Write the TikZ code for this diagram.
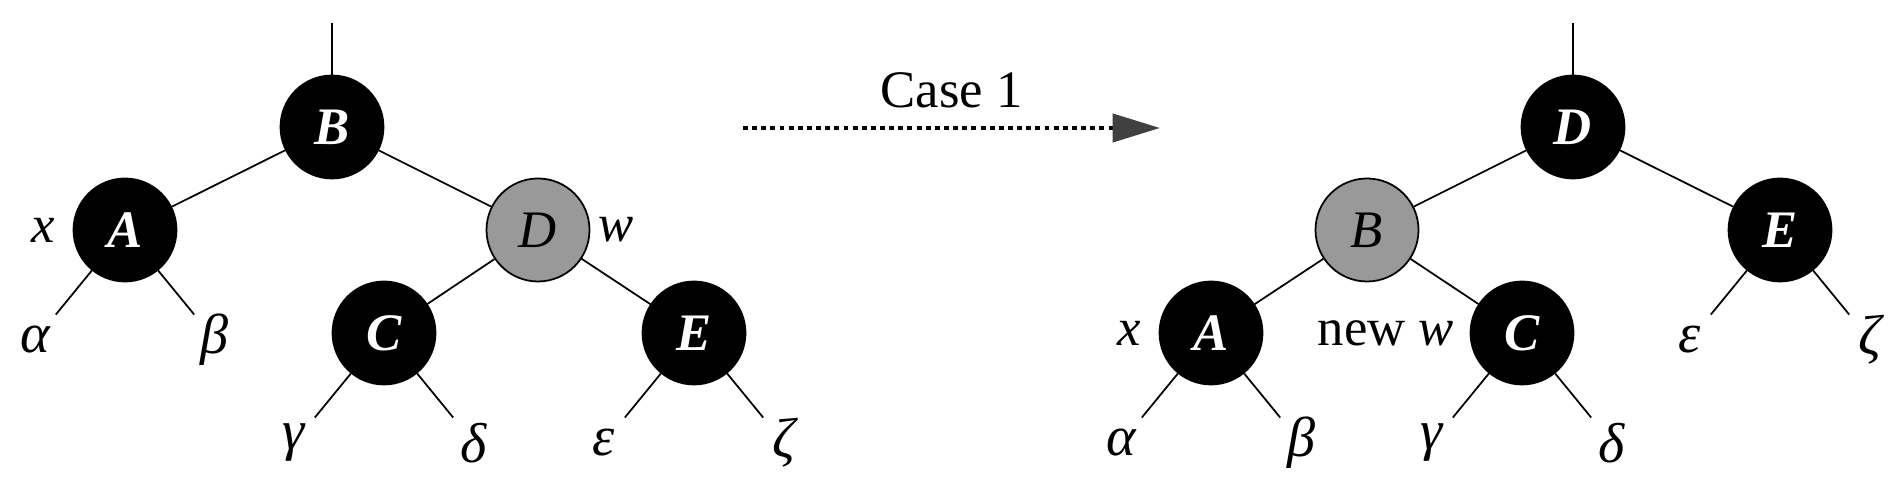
\documentclass[tikz,border=0pt]{standalone}
\usepackage{fontspec}
\setmainfont{Liberation Serif}
\usetikzlibrary{positioning,arrows.meta}

\tikzset{
  rbnode/.style={circle,draw,minimum size=1.03cm,inner sep=0pt,line width=0.5pt},
  blacknode/.style={rbnode,fill=black,text=white,font=\fontsize{15}{17}\selectfont\bfseries\itshape},
  rednode/.style={rbnode,fill=black!40,font=\fontsize{15}{17}\selectfont\itshape},
  leaf/.style={circle,minimum size=0.64cm,inner sep=0pt,font=\fontsize{16}{18}\selectfont\itshape},
  tag/.style={inner sep=0pt,font=\fontsize{15}{17}\selectfont},
  casearrow/.style={line width=1.1pt,dash pattern=on 1.4pt off 1.2pt,
    -{Triangle[length=13.5pt,width=8pt,color=black!75,fill=black!75]}}
}

\begin{document}
\begin{tikzpicture}[node distance=3cm,on grid,line width=0.5pt]
	   \useasboundingbox (0,0) rectangle (19,5);
	   % before
	   \node[blacknode] (l_B) at (3.32,3.73) {B};
	   \node[blacknode] (l_A) [below left=1.03cm and 2.07cm of l_B] {A};
	   \node[rednode]   (l_D) [below right=1.03cm and 2.06cm of l_B] {D};
	   \node[blacknode] (l_C) [below left=1.03cm and 1.54cm of l_D] {C};
	   \node[blacknode] (l_E) [below right=1.03cm and 1.56cm of l_D] {E};
	   \coordinate[above=1.04cm of l_B] (l_top);
	   \node[leaf] (l_alpha) [below left=1.1cm and 0.9cm of l_A] {α};
	   \node[leaf] (l_beta)  [below right=1.1cm and 0.9cm of l_A] {β};
	   \node[leaf] (l_gamma) [below left=1.1cm and 0.9cm of l_C] {γ};
	   \node[leaf] (l_delta) [below right=1.1cm and 0.9cm of l_C] {δ};
	   \node[leaf] (l_eps)   [below left=1.1cm and 0.9cm of l_E] {ε};
	   \node[leaf] (l_zeta)  [below right=1.1cm and 0.9cm of l_E] {ζ};
	   \node[tag] (l_x) [left=0.82cm of l_A] {\itshape x};
	   \node[tag] (l_w) [right=0.78cm of l_D] {\itshape w};
	    \path
	    (l_B) edge (l_top)
	          edge (l_A)
	          edge (l_D)
	    (l_A) edge (l_alpha)
	          edge (l_beta)
	    (l_D) edge (l_C)
	          edge (l_E)
	    (l_C) edge (l_gamma)
	          edge (l_delta)
	    (l_E) edge (l_eps)
	          edge (l_zeta);
	   % arrow
	   \coordinate (c_from) at (7.43,3.72);
	   \coordinate (c_to) at (11.60,3.72);
	   \draw[casearrow] (c_from) -- node[tag,above=5pt] (c_label) {Case 1} (c_to);
	   % after
	   \node[blacknode] (r_D) at (15.73,3.73) {D};
	   \node[rednode]   (r_B) [below left=1.03cm and 2.06cm of r_D] {B};
	   \node[blacknode] (r_E) [below right=1.03cm and 2.07cm of r_D] {E};
	   \node[blacknode] (r_A) [below left=1.03cm and 1.56cm of r_B] {A};
	   \node[blacknode] (r_C) [below right=1.03cm and 1.55cm of r_B] {C};
	   \coordinate[above=1.04cm of r_D] (r_top);
	   \node[leaf] (r_alpha) [below left=1.1cm and 0.9cm of r_A] {α};
	   \node[leaf] (r_beta)  [below right=1.1cm and 0.9cm of r_A] {β};
	   \node[leaf] (r_gamma) [below left=1.1cm and 0.9cm of r_C] {γ};
	   \node[leaf] (r_delta) [below right=1.1cm and 0.9cm of r_C] {δ};
	   \node[leaf] (r_eps)   [below left=1.1cm and 0.9cm of r_E] {ε};
	   \node[leaf] (r_zeta)  [below right=1.1cm and 0.9cm of r_E] {ζ};
	   \node[tag] (r_x) [left=0.82cm of r_A] {\itshape x};
	   \node[tag] (r_w) [left=1.36cm of r_C] {new \itshape w};
	    \path
	    (r_D) edge (r_top)
	          edge (r_B)
	          edge (r_E)
	    (r_B) edge (r_A)
	          edge (r_C)
	    (r_A) edge (r_alpha)
	          edge (r_beta)
	    (r_C) edge (r_gamma)
	          edge (r_delta)
	    (r_E) edge (r_eps)
	          edge (r_zeta);
	\end{tikzpicture}
\end{document}
